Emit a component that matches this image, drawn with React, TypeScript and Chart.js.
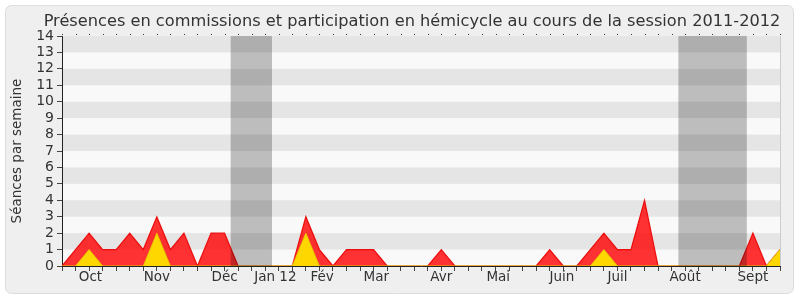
import React, { useEffect, useRef } from "react";
import { Chart, registerables } from "chart.js";

Chart.register(...registerables);

const TITLE = "Présences en commissions et participation en hémicycle au cours de la session 2011-2012";
const Y_TITLE = "Séances par semaine";

// weekly values, index 0..53
const presenceTotal = [
  0, 1, 2, 1, 1, 2, 1, 3, 1, 2, 0, 2, 2, 0, 0, 0, 0, 0, 3, 1,
  0, 1, 1, 1, 0, 0, 0, 0, 1, 0, 0, 0, 0, 0, 0, 0, 1, 0, 0, 1,
  2, 1, 1, 4, 0, 0, 0, 0, 0, 0, 0, 2, 0, 1,
];
const hemicycle = [
  0, 0, 1, 0, 0, 0, 0, 2, 0, 0, 0, 0, 0, 0, 0, 0, 0, 0, 2, 0,
  0, 0, 0, 0, 0, 0, 0, 0, 0, 0, 0, 0, 0, 0, 0, 0, 0, 0, 0, 0,
  1, 0, 0, 0, 0, 0, 0, 0, 0, 0, 0, 0, 0, 1,
];
const weekIndex = presenceTotal.map((_, i) => i);

const monthLabels = ["Oct", "Nov", "Déc", "Jan 12", "Fév", "Mar", "Avr", "Mai", "Juin", "Juil", "Août", "Sept"];
const monthPositions = [2.1, 7.0, 12.0, 15.75, 19.2, 23.2, 28.0, 32.2, 36.9, 41.0, 46.0, 51.0];

const holidayStart = [12.45, 45.5];
const holidayEnd = [15.5, 50.55];

const FONT = "'DejaVu Sans', sans-serif";

export default function App() {
  const ref = useRef<HTMLCanvasElement | null>(null);

  useEffect(() => {
    const canvas = ref.current;
    if (!canvas) return;

    const bgPlugin = {
      id: "bgPlugin",
      beforeDraw(chart: any) {
        const { ctx, chartArea: a, scales } = chart;
        const y = scales.y;
        ctx.save();
        ctx.fillStyle = "#ffffff";
        ctx.fillRect(0, 0, chart.width, chart.height);
        ctx.beginPath();
        (ctx as any).roundRect(5.5, 5.5, 788, 288, 6);
        ctx.fillStyle = "#efefef";
        ctx.fill();
        ctx.strokeStyle = "#dddddd";
        ctx.lineWidth = 1;
        ctx.stroke();
        ctx.fillStyle = "#f9f9f9";
        ctx.fillRect(a.left, a.top, a.right - a.left, a.bottom - a.top);
        ctx.fillStyle = "rgba(0,0,0,0.08)";
        for (let v = 1; v < 14; v += 2) {
          const y1 = y.getPixelForValue(v);
          const y2 = y.getPixelForValue(v + 1);
          ctx.fillRect(a.left, y2, a.right - a.left, y1 - y2);
        }
        ctx.restore();
      },
      afterDatasetsDraw(chart: any) {
        const { ctx, chartArea: a, scales } = chart;
        const x = scales.x;
        ctx.save();
        ctx.fillStyle = "rgba(0,0,0,0.24)";
        holidayStart.forEach((s, i) => {
          const x1 = x.getPixelForValue(s);
          const x2 = x.getPixelForValue(holidayEnd[i]);
          ctx.fillRect(x1, a.top, x2 - x1, a.bottom - a.top);
        });
        ctx.strokeStyle = "#cccccc";
        ctx.beginPath();
        ctx.moveTo(Math.round(a.right) + 0.5, a.top);
        ctx.lineTo(Math.round(a.right) + 0.5, a.bottom);
        ctx.stroke();
        ctx.restore();
      },
      afterDraw(chart: any) {
        const { ctx, chartArea: a, scales } = chart;
        const x = scales.x;
        ctx.save();
        ctx.fillStyle = "#333333";
        x.ticks.forEach((t: any) => {
          ctx.fillRect(Math.round(x.getPixelForValue(t.value)), a.top - 2, 1, 1);
        });
        ctx.fillStyle = "#333333";
        ctx.font = `16.2px ${FONT}`;
        ctx.textAlign = "center";
        ctx.textBaseline = "alphabetic";
        ctx.fillText(TITLE, 412, 26);
        ctx.restore();
      },
    };

    const chart = new Chart(canvas, {
      type: "line",
      data: {
        labels: weekIndex,
        datasets: [
          {
            label: "Hémicycle",
            data: hemicycle.map((v, i) => ({ x: weekIndex[i], y: v })),
            borderColor: "#e8c400",
            backgroundColor: "#ffd700",
            borderWidth: 1,
            fill: "origin",
            pointRadius: 0,
            tension: 0,
          },
          {
            label: "Commissions",
            data: presenceTotal.map((v, i) => ({ x: weekIndex[i], y: v })),
            borderColor: "rgba(235,0,0,0.9)",
            backgroundColor: "rgba(255,0,0,0.8)",
            borderWidth: 1.2,
            fill: "origin",
            pointRadius: 0,
            tension: 0,
          },
        ],
      },
      options: {
        responsive: false,
        animation: false,
        devicePixelRatio: 1,
        layout: { padding: { left: 0, right: 20, top: 36, bottom: 0 } },
        plugins: {
          legend: { display: false },
          tooltip: { enabled: false },
          title: { display: false },
        },
        scales: {
          x: {
            type: "linear",
            min: 0,
            max: 53,
            position: "bottom",
            afterFit: (s: any) => {
              s.height = 2;
            },
            ticks: {
              stepSize: 1,
              autoSkip: false,
              maxRotation: 0,
              callback: () => "",
            },
            grid: { drawOnChartArea: false, drawTicks: true, tickLength: 5, color: "#444444" },
            border: { display: true, color: "#222222" },
          },
          xm: {
            type: "linear",
            min: 0,
            max: 53,
            position: "bottom",
            afterFit: (s: any) => {
              s.height = 32;
            },
            afterBuildTicks: (s: any) => {
              s.ticks = monthPositions.map((v) => ({ value: v }));
            },
            ticks: {
              autoSkip: false,
              maxRotation: 0,
              padding: 1,
              color: "#333333",
              font: { family: FONT, size: 13.5 },
              callback: (_v: any, i: number) => monthLabels[i],
            },
            grid: { display: false, drawTicks: false },
            border: { display: false },
          },
          y: {
            min: 0,
            max: 14,
            afterFit: (s: any) => {
              s.width = 62;
            },
            ticks: {
              stepSize: 1,
              autoSkip: false,
              padding: 3,
              color: "#333333",
              font: { family: FONT, size: 14 },
            },
            grid: { drawOnChartArea: false, drawTicks: true, tickLength: 5, color: "#444444" },
            border: { display: true, color: "#222222" },
            title: {
              display: true,
              text: Y_TITLE,
              color: "#333333",
              font: { family: FONT, size: 13.5 },
              padding: { top: 9, bottom: 0 },
            },
          },
        },
      },
      plugins: [bgPlugin],
    });

    return () => chart.destroy();
  }, []);

  return (
    <div style={{ position: "absolute", left: 0, top: 0, width: 800, height: 300 }}>
      <canvas ref={ref} width={800} height={300} style={{ display: "block" }} />
    </div>
  );
}
